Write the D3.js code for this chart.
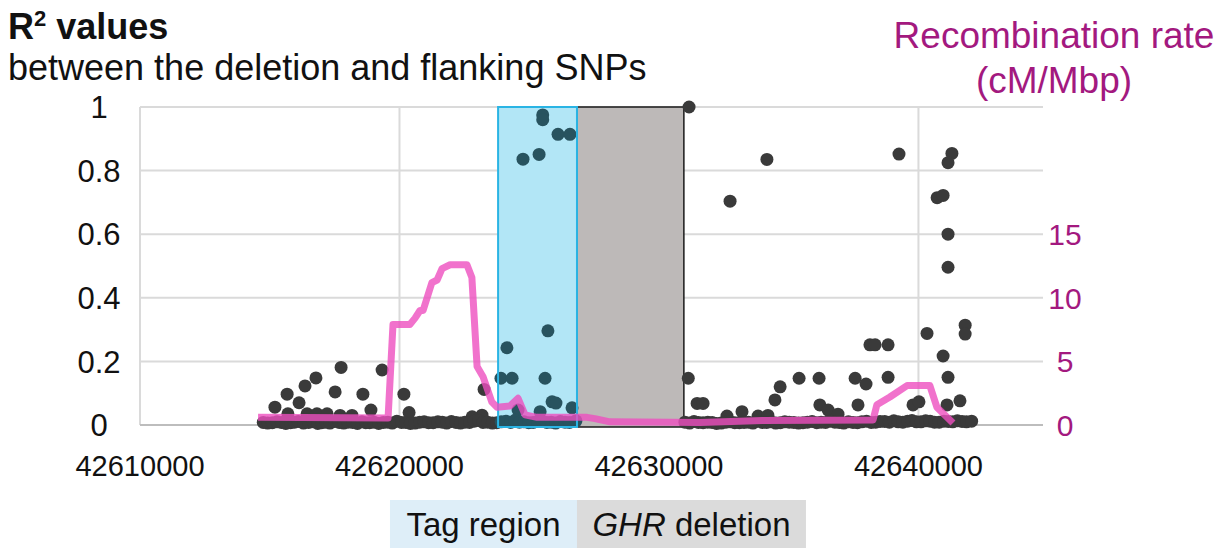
<!DOCTYPE html>
<html>
<head>
<meta charset="utf-8">
<script src="https://cdn.jsdelivr.net/npm/d3@7"></script>
<style>
body { margin: 0; background: #fff; }
text { font-family: "Liberation Sans", Arial, Helvetica, sans-serif; }
</style>
</head>
<body>
<div id="chart"></div>
<script>
var xTicks = [42610000, 42620000, 42630000, 42640000];
var yTicks = [0, 0.2, 0.4, 0.6, 0.8, 1];
var rateTicks = [0, 5, 10, 15];

var regionNames = ['Tag region', 'GHR deletion'];
var regionStart = [42623800, 42626840];
var regionEnd = [42626840, 42630960];

// [position, R2]
var snps = [
    [42615200, 0.056], [42615670, 0.097], [42616130, 0.07], [42616360, 0.123], [42616780, 0.148],
    [42617750, 0.181], [42617520, 0.104], [42618590, 0.097], [42618900, 0.047], [42619330, 0.173],
    [42620170, 0.097], [42620370, 0.039], [42623260, 0.112], [42623180, 0.031], [42622800, 0.026],
    [42615700, 0.035], [42616440, 0.035], [42616820, 0.035], [42617210, 0.035], [42617710, 0.03], [42618170, 0.03],
    [42625520, 0.975], [42625520, 0.96], [42626110, 0.914], [42626570, 0.914], [42624760, 0.836],
    [42625380, 0.851], [42625720, 0.296], [42624140, 0.243], [42623910, 0.147], [42624340, 0.147],
    [42625610, 0.147], [42625880, 0.073], [42626030, 0.069], [42626650, 0.054], [42625420, 0.042], [42624570, 0.047],
    [42631160, 1.0], [42631130, 0.147], [42631470, 0.068], [42631700, 0.068], [42632740, 0.704],
    [42634160, 0.835], [42633200, 0.042], [42634470, 0.079], [42634670, 0.12], [42635400, 0.147],
    [42636170, 0.147], [42636200, 0.063], [42636520, 0.047], [42636900, 0.034], [42637560, 0.147],
    [42637670, 0.063], [42632620, 0.028], [42633820, 0.028], [42634200, 0.03],
    [42639250, 0.852], [42641290, 0.854], [42641140, 0.825], [42640720, 0.715], [42640950, 0.722],
    [42641140, 0.60], [42641140, 0.496], [42641800, 0.314], [42641800, 0.286], [42640330, 0.288],
    [42638130, 0.252], [42638330, 0.252], [42638830, 0.252], [42640950, 0.217], [42637980, 0.129],
    [42638830, 0.15], [42641140, 0.15], [42639790, 0.063], [42640020, 0.073], [42641100, 0.063], [42641600, 0.076],
    // low R2 SNPs along the baseline
    [42614750, 0.008], [42614920, 0.006], [42615100, 0.007], [42615280, 0.01], [42615450, 0.008],
    [42615620, 0.005], [42615800, 0.007], [42615950, 0.009], [42616100, 0.011], [42616300, 0.006],
    [42616500, 0.008], [42616680, 0.01], [42616850, 0.005], [42617000, 0.007], [42617150, 0.009],
    [42617320, 0.006], [42617500, 0.011], [42617680, 0.008], [42617850, 0.006], [42618020, 0.009],
    [42618200, 0.008], [42618380, 0.005], [42618550, 0.01], [42618700, 0.007], [42618850, 0.007],
    [42619020, 0.009], [42619200, 0.005], [42619380, 0.008], [42619550, 0.009], [42619720, 0.006],
    [42619900, 0.012], [42620080, 0.008], [42620250, 0.008], [42620420, 0.005], [42620600, 0.006],
    [42620780, 0.009], [42620950, 0.01], [42621120, 0.007], [42621300, 0.007], [42621480, 0.01],
    [42621650, 0.009], [42621820, 0.006], [42622000, 0.011], [42622180, 0.008], [42622350, 0.006],
    [42622520, 0.009], [42622700, 0.008], [42622880, 0.012], [42623050, 0.014], [42623220, 0.008],
    [42623400, 0.009], [42623580, 0.006], [42623750, 0.007], [42623920, 0.01], [42624100, 0.012],
    [42624280, 0.008], [42624450, 0.015], [42624620, 0.009], [42624800, 0.01], [42624980, 0.007],
    [42625150, 0.008], [42625320, 0.011], [42625500, 0.012], [42625680, 0.008], [42625850, 0.009],
    [42626020, 0.006], [42626200, 0.011], [42626380, 0.009], [42626550, 0.008], [42626800, 0.013],
    [42631000, 0.009], [42631180, 0.006], [42631350, 0.011], [42631520, 0.008], [42631700, 0.007],
    [42631880, 0.009], [42632050, 0.008], [42632220, 0.005], [42632400, 0.006], [42632580, 0.009],
    [42632750, 0.01], [42632920, 0.007], [42633100, 0.007], [42633280, 0.008], [42633450, 0.009],
    [42633620, 0.006], [42633800, 0.012], [42633980, 0.008], [42634150, 0.008], [42634320, 0.01],
    [42634500, 0.006], [42634680, 0.007], [42634850, 0.01], [42635020, 0.009], [42635200, 0.008],
    [42635380, 0.006], [42635550, 0.007], [42635720, 0.009], [42635900, 0.011], [42636080, 0.007],
    [42636250, 0.009], [42636420, 0.008], [42636600, 0.012], [42636780, 0.009], [42636950, 0.008],
    [42637120, 0.006], [42637300, 0.01], [42637480, 0.008], [42637650, 0.007], [42637820, 0.01],
    [42638000, 0.012], [42638180, 0.008], [42638350, 0.009], [42638520, 0.011], [42638700, 0.011],
    [42638880, 0.009], [42639050, 0.013], [42639220, 0.01], [42639400, 0.009], [42639580, 0.012],
    [42639750, 0.014], [42639920, 0.01], [42640100, 0.01], [42640280, 0.013], [42640450, 0.012],
    [42640620, 0.009], [42640800, 0.009], [42640980, 0.012], [42641150, 0.011], [42641320, 0.01],
    [42641500, 0.013], [42641680, 0.011], [42641850, 0.01], [42642050, 0.012]
];

var recPos = [42614550, 42619560, 42619750, 42620400, 42620600, 42620790, 42620910, 42621250,
    42621450, 42621640, 42621950, 42622600, 42622790, 42622990, 42623220, 42623560, 42623760,
    42624260, 42624570, 42624840, 42625300, 42627230, 42627530, 42628110, 42631580, 42634000,
    42638250, 42638400, 42638900, 42639560, 42640440, 42640710, 42641330];
var recRate = [0.6, 0.55, 7.9, 7.9, 8.4, 9.0, 9.0, 11.2, 11.4, 12.3, 12.6, 12.6, 11.6, 4.6,
    3.8, 1.8, 1.4, 1.5, 2.1, 0.8, 0.6, 0.6, 0.5, 0.25, 0.2, 0.35, 0.4, 1.6, 2.2, 3.1, 3.1, 1.4, 0.15];

var W = 1226, H = 548;
var purple = '#a3197f';

var svg = d3.select('#chart')
    .append('svg')
    .attr('width', W)
    .attr('height', H)
    .attr('xmlns', 'http://www.w3.org/2000/svg');

svg.append('rect').attr('width', W).attr('height', H).attr('fill', '#fff');

var x = d3.scaleLinear().domain([42610000, 42644800]).range([140, 1043]);
var y = d3.scaleLinear().domain([0, 1]).range([425, 107]);
var yRate = d3.scaleLinear().domain([0, 25]).range([425, 107]);

// grid
svg.append('g')
    .selectAll('line')
    .data(yTicks.slice(1))
    .enter()
    .append('line')
    .attr('x1', x.range()[0]).attr('x2', x.range()[1])
    .attr('y1', (d) => y(d)).attr('y2', (d) => y(d))
    .attr('stroke', '#dadada').attr('stroke-width', 2);

svg.append('g')
    .selectAll('line')
    .data(xTicks)
    .enter()
    .append('line')
    .attr('x1', (d) => x(d)).attr('x2', (d) => x(d))
    .attr('y1', y(0)).attr('y2', y(1))
    .attr('stroke', '#dadada').attr('stroke-width', 2);

svg.append('line')
    .attr('x1', x.range()[0]).attr('x2', x.range()[1])
    .attr('y1', y(0)).attr('y2', y(0))
    .attr('stroke', '#bdbdbd').attr('stroke-width', 2);

// region boxes
var boxH = y(0) - y(1) + 2;
svg.append('rect')
    .attr('x', x(regionStart[0]))
    .attr('y', y(1))
    .attr('width', x(regionEnd[0]) - x(regionStart[0]))
    .attr('height', boxH)
    .attr('fill', '#b2e6f6');

svg.append('rect')
    .attr('x', x(regionStart[1]))
    .attr('y', y(1))
    .attr('width', x(regionEnd[1]) - x(regionStart[1]))
    .attr('height', boxH)
    .attr('fill', '#bdb9b8')
    .attr('stroke', '#1a1a1a')
    .attr('stroke-width', 1.5);

// SNPs (inside the tag region they show through the blue tint)
var inTag = (p) => p >= regionStart[0] && p <= regionEnd[0];
svg.append('g')
    .selectAll('circle')
    .data(snps)
    .enter()
    .append('circle')
    .attr('cx', (d) => x(d[0]))
    .attr('cy', (d) => y(d[1]))
    .attr('r', 6.5)
    .attr('fill', (d) => inTag(d[0]) ? '#28535f' : '#3a3a3a');

svg.append('rect')
    .attr('x', x(regionStart[0]))
    .attr('y', y(1))
    .attr('width', x(regionEnd[0]) - x(regionStart[0]))
    .attr('height', boxH)
    .attr('fill', 'none')
    .attr('stroke', '#2ab4e4')
    .attr('stroke-width', 2);

// recombination rate
var rateLine = d3.line()
    .x((d, i) => x(recPos[i]))
    .y((d) => yRate(d));

svg.append('path')
    .datum(recRate)
    .attr('d', rateLine)
    .attr('fill', 'none')
    .attr('stroke', '#ee4fbf')
    .attr('stroke-opacity', 0.8)
    .attr('stroke-width', 7)
    .attr('stroke-linejoin', 'round');

// left axis labels
svg.append('g')
    .selectAll('text')
    .data(yTicks)
    .enter()
    .append('text')
    .attr('x', 99)
    .attr('y', (d) => y(d))
    .attr('dy', '0.36em')
    .attr('text-anchor', 'middle')
    .style('font-size', '31px')
    .attr('fill', '#111')
    .text((d) => d3.format('~g')(d));

// right axis labels
svg.append('g')
    .selectAll('text')
    .data(rateTicks)
    .enter()
    .append('text')
    .attr('x', 1065)
    .attr('y', (d) => yRate(d))
    .attr('dy', '0.36em')
    .attr('text-anchor', 'middle')
    .style('font-size', '30px')
    .attr('fill', purple)
    .text((d) => d);

// x axis labels
svg.append('g')
    .selectAll('text')
    .data(xTicks)
    .enter()
    .append('text')
    .attr('x', (d) => x(d))
    .attr('y', 476)
    .attr('text-anchor', 'middle')
    .style('font-size', '29px')
    .attr('fill', '#111')
    .text((d) => d);

// titles
var t = svg.append('text')
    .attr('x', 8).attr('y', 39)
    .style('font-size', '36px')
    .style('font-weight', 'bold')
    .attr('fill', '#111');
t.append('tspan').text('R');
t.append('tspan').attr('dy', -13).style('font-size', '22px').text('2');
t.append('tspan').attr('dy', 13).text(' values');

svg.append('text')
    .attr('x', 8).attr('y', 80)
    .style('font-size', '36px')
    .attr('fill', '#111')
    .text('between the deletion and flanking SNPs');

svg.append('text')
    .attr('x', 1054).attr('y', 48)
    .attr('text-anchor', 'middle')
    .style('font-size', '37px')
    .attr('fill', purple)
    .text('Recombination rate');

svg.append('text')
    .attr('x', 1054).attr('y', 93)
    .attr('text-anchor', 'middle')
    .style('font-size', '37px')
    .attr('fill', purple)
    .text('(cM/Mbp)');

// legend
var legW = [187, 229];
var legX = [x(regionEnd[0]) - legW[0], x(regionEnd[0])];
var legFill = ['#deeef8', '#dbdbdb'];

regionNames.forEach(function (name, i) {
    svg.append('rect')
        .attr('x', legX[i]).attr('y', 500)
        .attr('width', legW[i]).attr('height', 48)
        .attr('fill', legFill[i]);
    var lt = svg.append('text')
        .attr('x', legX[i] + legW[i] / 2)
        .attr('y', 536)
        .attr('text-anchor', 'middle')
        .style('font-size', '33px')
        .attr('fill', '#111');
    if (name.indexOf('GHR') === 0) {
        lt.append('tspan').style('font-style', 'italic').text('GHR');
        lt.append('tspan').text(name.slice(3));
    } else {
        lt.text(name);
    }
});
</script>
</body>
</html>
